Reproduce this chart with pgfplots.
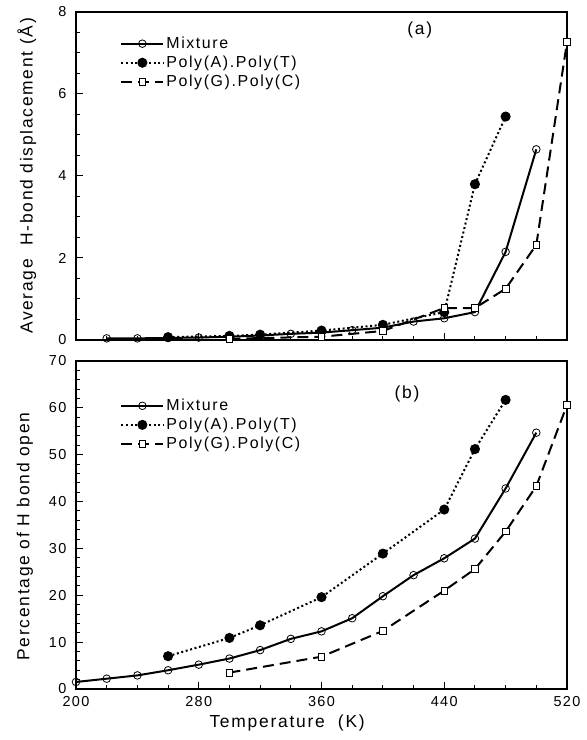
\documentclass[border=0pt]{standalone}
\usepackage{fontspec}
\setmainfont{Liberation Sans}[LetterSpace=10]
\usepackage{pgfplots}
\pgfplotsset{compat=1.18}
\pgfplotsset{
  myaxis/.style={
    scale only axis, width=491bp, height=328bp,
    xmin=200, xmax=520,
    xtick={200,280,...,520}, minor x tick num=3,
    tick align=inside, xtick pos=bottom, ytick pos=left,
    major tick length=7bp, minor tick length=4bp,
    every tick/.style={black, line width=1bp},
    axis line style={line width=1.3bp, solid},
    /pgf/number format/assume math mode=true,
    ticklabel style={font=\fontsize{14.5}{16}\selectfont},
    yticklabel style={xshift=-6bp},
    legend style={draw=none, fill=none, font=\fontsize{16}{19}\selectfont,
      anchor=north west, row sep=2bp, inner sep=0pt,
      nodes={inner sep=2bp}, cells={anchor=west}},
    legend image code/.code={\draw[mark repeat=2,mark phase=2] plot coordinates {(0bp,0bp) (21bp,0bp) (42bp,0bp)};},
  },
  sMix/.style={black, line width=2bp, solid, mark=o, mark size=3.8bp, mark options={solid, line width=0.8bp, fill=white}},
  sAT/.style={black, line width=2bp, dash pattern=on 2bp off 2.6bp, mark=*, mark size=4bp, mark options={solid}},
  sGC/.style={black, line width=2bp, dash pattern=on 11bp off 6bp, mark=square*, mark size=3.3bp, mark options={solid, line width=0.8bp, fill=white}},
}
\begin{document}
\begin{tikzpicture}
\useasboundingbox (-76bp,-51bp) rectangle (511bp,689bp);
% bottom panel (b)
\begin{axis}[myaxis, at={(0bp,0bp)}, anchor=south west,
  ymin=0, ymax=70, ytick={0,10,...,70}, minor y tick num=4,
  xticklabel style={yshift=-4bp},
  legend style={at={(0.09,0.89)}},
  xlabel={Temperature\ \ (K)},
  ylabel={Percentage of H bond open},
  every axis x label/.style={at={(axis description cs:0.43,0)}, anchor=center, yshift=-34bp, font=\fontsize{17.5}{20}\selectfont},
  every axis y label/.style={at={(axis description cs:-0.104,0.465)}, rotate=90, anchor=center, font=\fontsize{17.5}{20}\selectfont},
]
\addplot[sMix] coordinates {(200,1.5)(220,2.2)(240,2.9)(260,4.0)(280,5.2)(300,6.5)(320,8.3)(340,10.7)(360,12.3)(380,15.1)(400,19.8)(420,24.3)(440,27.9)(460,32.1)(480,42.8)(500,54.7)};
\addlegendentry{Mixture}
\addplot[sAT] coordinates {(260,7.0)(300,10.9)(320,13.6)(360,19.6)(400,28.9)(440,38.3)(460,51.2)(480,61.7)};
\addlegendentry{Poly(A).Poly(T)}
\addplot[sGC] coordinates {(300,3.5)(360,6.9)(400,12.4)(440,21.0)(460,25.6)(480,33.6)(500,43.3)(520,60.6)};
\addlegendentry{Poly(G).Poly(C)}
\node[font=\fontsize{17.5}{20}\selectfont] at (rel axis cs:0.674,0.90) {(b)};
\end{axis}
% top panel (a)
\begin{axis}[myaxis, at={(0bp,349bp)}, anchor=south west,
  ymin=0, ymax=8, ytick={0,2,...,8}, minor y tick num=3,
  xticklabels={},
  legend style={at={(0.09,0.93)}},
  ylabel={Average\ \ H-bond displacement (Å)},
  every axis y label/.style={at={(axis description cs:-0.1,0.5)}, rotate=90, anchor=center, font=\fontsize{17.5}{20}\selectfont},
]
\addplot[sMix] coordinates {(220,0.04)(240,0.04)(260,0.05)(280,0.06)(300,0.08)(320,0.11)(340,0.15)(360,0.18)(380,0.24)(400,0.30)(420,0.45)(440,0.53)(460,0.68)(480,2.15)(500,4.65)};
\addlegendentry{Mixture}
\addplot[sAT] coordinates {(260,0.07)(300,0.10)(320,0.13)(360,0.23)(400,0.37)(440,0.68)(460,3.8)(480,5.45)};
\addlegendentry{Poly(A).Poly(T)}
\addplot[sGC] coordinates {(300,0.03)(360,0.08)(400,0.22)(440,0.78)(460,0.78)(480,1.25)(500,2.32)(520,7.27)};
\addlegendentry{Poly(G).Poly(C)}
\node[font=\fontsize{17.5}{20}\selectfont] at (rel axis cs:0.70,0.945) {(a)};
\end{axis}
\end{tikzpicture}
\end{document}
